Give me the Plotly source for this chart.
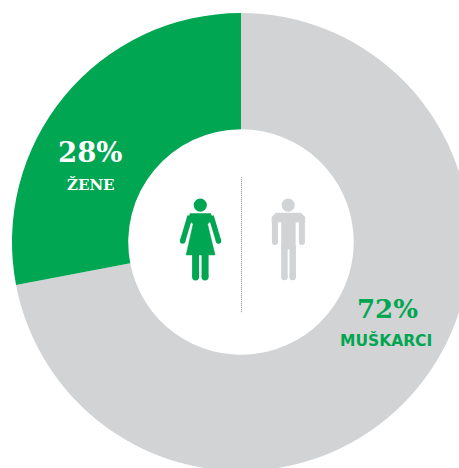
import plotly.graph_objects as go

categories = ["MUŠKARCI", "ŽENE"]
values = [72, 28]
value_labels = ["72%", "28%"]
GREEN = "#00A651"
GREY = "#D1D3D4"

W, H = 482, 486
ML, MR, MT, MB = 11.5, 11.5, 12.5, 14.5
PW, PH = W - ML - MR, H - MT - MB


def X(p):
    return (p - ML) / PW


def Y(p):
    return 1 - (p - MT) / PH


def path(points):
    return "M " + " L ".join(f"{X(a):.5f},{Y(b):.5f}" for a, b in points) + " Z"


def capsule(x0, y0, x1, y1, color, width):
    return dict(type="line", xref="paper", yref="paper", x0=X(x0), y0=Y(y0), x1=X(x1), y1=Y(y1),
                line=dict(color=color, width=width))


def circle(cx, cy, r, color):
    return dict(type="circle", xref="paper", yref="paper", x0=X(cx - r), x1=X(cx + r),
                y0=Y(cy - r), y1=Y(cy + r), fillcolor=color, line=dict(width=0))


def poly(points, color):
    return dict(type="path", xref="paper", yref="paper", path=path(points), fillcolor=color,
                line=dict(color=color, width=0.5))


shapes = [
    dict(type="line", xref="paper", yref="paper", x0=X(241.5), x1=X(241.5), y0=Y(177), y1=Y(313),
         line=dict(color="#8A8C8E", width=1, dash="1px,1px")),
    # woman
    circle(200.2, 205, 6.6, GREEN),
    poly([(190, 213.5), (210.5, 213.5), (213, 219), (207.5, 224), (215, 255), (186, 255), (193, 224), (188, 219)], GREEN),
    capsule(190, 216, 182.5, 241, GREEN, 5.5),
    capsule(211, 216, 218.5, 241, GREEN, 5.5),
    capsule(195.5, 254, 195.5, 277, GREEN, 7),
    capsule(205, 254, 205, 277, GREEN, 7),
    circle(195.5, 277, 3.5, GREEN), circle(205, 277, 3.5, GREEN),
    circle(182.5, 241, 2.75, GREEN), circle(218.5, 241, 2.75, GREEN),
    # man
    circle(288.3, 205, 6.6, GREY),
    poly([(276, 213), (301, 213), (305, 217), (305, 222), (295.5, 222), (295.5, 249),
          (281.5, 249), (281.5, 222), (272, 222), (272, 217)], GREY),
    capsule(275, 217, 275, 242, GREY, 6),
    capsule(302, 217, 302, 242, GREY, 6),
    capsule(284.5, 246, 284.5, 277, GREY, 6.5),
    capsule(292.8, 246, 292.8, 277, GREY, 6.5),
    circle(284.5, 277, 3.25, GREY), circle(292.8, 277, 3.25, GREY),
    circle(275, 242, 3, GREY), circle(302, 242, 3, GREY),
]


def label(text, cx, cy, size, color, family):
    return dict(text=f"<b>{text}</b>", xref="paper", yref="paper", x=X(cx), y=Y(cy), xanchor="center",
                yanchor="middle", showarrow=False, font=dict(family=family, size=size, color=color))


annotations = [
    label(value_labels[1], 90, 152, 27.5, "white", "DejaVu Serif"),
    label(categories[1], 90.5, 185, 15, "white", "DejaVu Serif"),
    label(value_labels[0], 387.5, 309, 26, GREEN, "DejaVu Serif"),
    label(categories[0], 386, 341, 15.5, GREEN, "DejaVu Sans"),
]

fig = go.Figure(go.Pie(
    labels=categories,
    values=values,
    hole=113 / 229.5,
    sort=False,
    direction="clockwise",
    rotation=0,
    marker=dict(colors=[GREY, GREEN], line=dict(width=0)),
    textinfo="none",
    showlegend=False,
))
fig.update_layout(
    width=W, height=H,
    margin=dict(l=ML, r=MR, t=MT, b=MB, pad=0),
    paper_bgcolor="white",
    shapes=shapes,
    annotations=annotations,
)
fig.write_html(
    "out.html",
    config={"displayModeBar": False},
    post_script="document.documentElement.style.overflow='hidden';document.body.style.overflow='hidden';document.body.style.margin='0';",
)
